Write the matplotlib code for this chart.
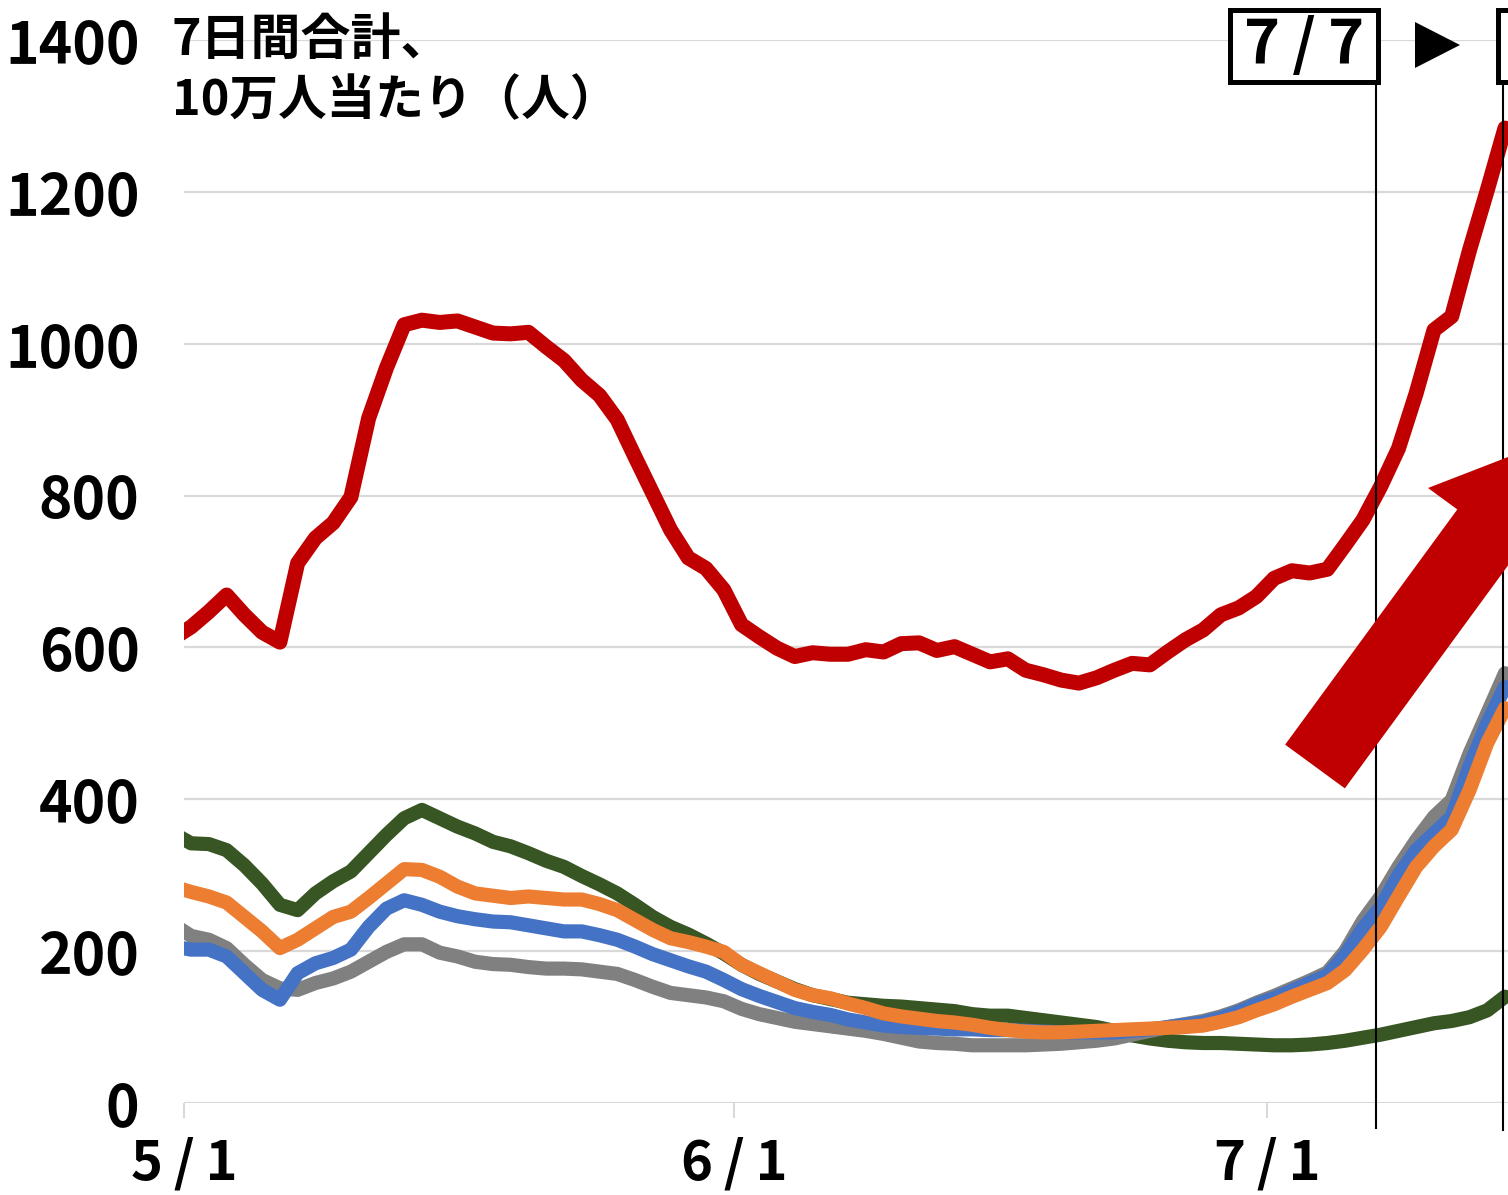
import numpy as np
import matplotlib
matplotlib.use('Agg')
import matplotlib.pyplot as plt
from matplotlib.patches import Rectangle, Polygon, FancyArrow
from matplotlib.transforms import ScaledTranslation

plt.rcParams['font.family'] = ['Noto Sans CJK JP', 'DejaVu Sans']

# days since 5/1 (first value is 4/30)
days = np.arange(-1, 75)

red = [612, 627, 647, 669, 643, 620, 607, 711, 744, 764, 798, 902, 968, 1025, 1031, 1028,
       1030, 1022, 1014, 1013, 1015, 996, 978, 952, 932, 900, 851, 803, 755, 718, 704, 676,
       630, 614, 599, 588, 593, 591, 591, 597, 594, 605, 606, 596, 601, 591, 581, 585,
       570, 564, 557, 553, 560, 570, 579, 577, 594, 610, 623, 643, 652, 667, 691, 701,
       698, 703, 735, 768, 812, 862, 935, 1018, 1036, 1123, 1202, 1284]
green = [355, 342, 341, 333, 313, 289, 261, 254, 276, 292, 305, 329, 353, 375, 386, 375,
         364, 355, 344, 338, 329, 319, 311, 299, 288, 276, 261, 245, 232, 222, 210, 197,
         182, 170, 160, 150, 142, 137, 132, 130, 128, 127, 125, 123, 121, 117, 115, 115,
         112, 109, 106, 103, 100, 95, 89, 85, 82, 80, 79, 79, 78, 77, 76, 76,
         77, 79, 82, 86, 90, 95, 100, 105, 108, 113, 122, 140]
orange = [285, 278, 272, 264, 245, 226, 204, 215, 230, 245, 252, 270, 289, 308, 307, 298,
          285, 276, 273, 270, 272, 270, 268, 268, 262, 254, 241, 228, 217, 212, 206, 199,
          182, 171, 160, 149, 142, 138, 131, 125, 118, 114, 111, 108, 106, 103, 99, 96,
          94, 93, 93, 94, 95, 96, 97, 98, 99, 100, 102, 107, 113, 122, 130, 140,
          149, 158, 175, 202, 232, 272, 311, 338, 360, 412, 474, 520]
blue = [206, 202, 202, 193, 171, 149, 136, 171, 184, 191, 202, 232, 256, 267, 261, 252,
        246, 242, 239, 238, 234, 230, 226, 226, 221, 215, 206, 196, 188, 180, 173, 162,
        150, 141, 133, 125, 120, 116, 110, 106, 102, 100, 99, 98, 97, 97, 96, 96,
        95, 94, 93, 93, 93, 93, 95, 97, 100, 103, 106, 112, 120, 130, 138, 148,
        158, 168, 195, 230, 258, 300, 333, 355, 377, 443, 500, 548]
gray = [235, 220, 215, 204, 182, 162, 151, 149, 158, 164, 173, 186, 199, 209, 209, 198,
        193, 186, 183, 182, 179, 177, 177, 176, 173, 170, 162, 153, 145, 142, 139, 134,
        124, 117, 112, 107, 104, 101, 98, 95, 91, 86, 81, 79, 78, 76, 76, 76,
        76, 77, 78, 80, 82, 85, 90, 95, 100, 104, 108, 114, 122, 132, 141, 151,
        161, 172, 200, 240, 272, 311, 346, 377, 399, 460, 513, 566]

tick_days = [0, 31, 61]
tick_labels = ['5\u2009/\u20091', '6\u2009/\u20091', '7\u2009/\u20091']

fig = plt.figure(figsize=(15.08, 11.95), dpi=100)
ax = fig.add_axes([0.12202, 0.07699, 0.87798, 0.88954])

x = days + 0.4  # points sit inside each day's slot
kw = dict(solid_joinstyle='round', solid_capstyle='round')
ax.plot(x, green, color='#375623', lw=10.2, zorder=3, **kw)
ax.plot(x, gray, color='#808080', lw=10.2, zorder=3, **kw)
ax.plot(x, blue, color='#4472C4', lw=10.2, zorder=3, **kw)
ax.plot(x, orange, color='#ED7D31', lw=10.2, zorder=3, **kw)
ax.plot(x, red, color='#C00000', lw=10.8, zorder=4, **kw)

ax.set_xlim(0, 74.57)
ax.set_ylim(0, 1400)
ax.set_yticks(range(0, 1401, 200))
ax.set_yticklabels([str(v) for v in range(0, 1401, 200)], fontsize=41, fontweight='bold')
shift_up = ScaledTranslation(0, 0.04, fig.dpi_scale_trans)
for t in ax.get_yticklabels():
    t.set_transform(t.get_transform() + shift_up)
ax.set_xticks(tick_days)
ax.set_xticklabels(tick_labels, fontsize=39, fontweight='bold')
ax.tick_params(axis='y', length=0, pad=32)
ax.tick_params(axis='x', direction='out', length=11, width=1.5, color='#D9D9D9', pad=13)
for s in ax.spines.values():
    s.set_visible(False)
ax.yaxis.grid(True, color='#D9D9D9', lw=1.6)
ax.set_axisbelow(True)

# vertical marker lines (7/7 and 7/14)
for xv, yb in [(67.14, -0.0235), (74.29, -0.0254)]:
    ax.plot([xv, xv], [0.9605, yb], transform=ax.get_xaxis_transform(),
            color='black', lw=1.5, clip_on=False, zorder=6)

px = fig.dpi_scale_trans
H = 1195

# big red arrow
fig.add_artist(FancyArrow(13.15, (H - 766.5) / 100, 2.398, 3.276, width=0.74,
                          head_width=1.466, head_length=1.145, length_includes_head=True,
                          transform=px, color='#C00000', lw=0, zorder=5))

# title
fig.text(1.72, (H - 40) / 100, '7日間合計、', transform=px, fontsize=36,
         fontweight='bold', ha='left', va='center')
fig.text(1.72, (H - 101) / 100, '10万人当たり（人）', transform=px, fontsize=35,
         fontweight='bold', ha='left', va='center')

# date boxes
fig.add_artist(Rectangle((12.30, (H - 82) / 100), 1.48, 0.72, transform=px,
                         facecolor='white', edgecolor='black', lw=3.6, zorder=7))
fig.text(13.04, (H - 46) / 100, '7\u2009/\u20097', transform=px, fontsize=44,
         fontweight='bold', ha='center', va='center', zorder=8)
fig.add_artist(Polygon([(14.15, (H - 22) / 100), (14.15, (H - 68) / 100),
                        (14.60, (H - 45) / 100)], closed=True, transform=px,
                       color='black', lw=0))
fig.add_artist(Rectangle((14.98, (H - 82) / 100), 1.5, 0.72, transform=px,
                         facecolor='white', edgecolor='black', lw=3.6, zorder=7))

fig.savefig('out.png', dpi=100)
